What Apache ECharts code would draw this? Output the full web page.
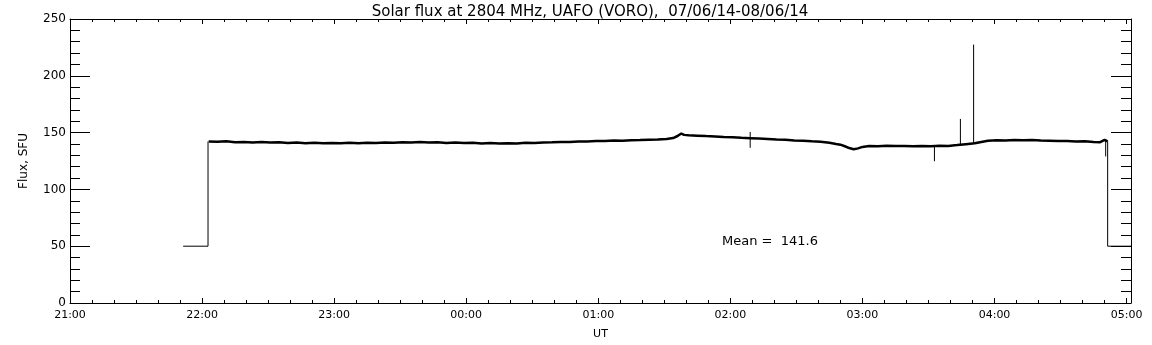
<!DOCTYPE html>
<html>
<head>
<meta charset="utf-8">
<script src="https://cdn.jsdelivr.net/npm/echarts@6/dist/echarts.min.js"></script>
<style>
html,body{margin:0;padding:0;background:#fff;}
#c{width:1152px;height:345px;}
</style>
</head>
<body>
<div id="c"></div>
<script>
// time in minutes after 21:00 UT
var hourLabels = ['21:00','22:00','23:00','00:00','01:00','02:00','03:00','04:00','05:00'];
var yTicks = [0, 50, 100, 150, 200, 250];
var meanText = 'Mean =  141.6';

// main flux trace [minutes after 21:00, SFU]
var traceTimes = [63,67,71,75,79,83,87,91,95,99,103,107,111,115,119,123,127,131,135,139,143,147,151,155,159,163,167,171,175,179,183,187,191,195,199,203,207,211,215,219,223,227,231,235,239,243,247,251,255,259,263,267,271,274,276,277.7,279,281,285,289,293,297,301,305,309,313,317,321,325,329,333,337,341,345,348,350,352,354,356,358,360,363,367,371,375,379,383,387,391,395,399,403,407,411,414,417,421,425,429,433,437,441,445,449,453,457,461,465,468,470,471.4];
var traceFlux = [142.2,141.9,142.3,141.6,141.8,141.3,141.7,141.2,141.5,140.9,141.2,140.7,141.0,140.6,140.9,140.6,141.0,140.7,141.1,140.9,141.3,141.1,141.6,141.3,141.7,141.2,141.4,140.9,141.2,140.8,141.0,140.5,140.8,140.4,140.7,140.5,141.0,140.8,141.3,141.4,141.8,141.7,142.2,142.1,142.6,142.5,143.0,142.8,143.3,143.4,143.8,143.9,144.4,145.2,147.0,149.2,148.0,147.6,147.3,146.9,146.6,146.1,145.8,145.4,145.1,144.7,144.3,143.9,143.6,143.1,142.8,142.3,141.9,141.0,140.0,139.4,138.0,136.4,135.3,136.1,137.4,138.2,138.0,138.4,138.1,138.3,137.9,138.2,138.0,138.4,138.3,139.0,139.8,140.6,141.8,142.8,143.2,143.0,143.5,143.2,143.4,143.0,142.9,142.5,142.6,142.1,142.3,141.8,141.6,143.5,142.2];

// spikes: time, from, to
var spikeTimes = [309, 392.7, 404.5, 410.5, 470.5];
var spikeFrom  = [150.6, 138.0, 139.0, 140.5, 143.0];
var spikeTo    = [136.6, 124.8, 162.0, 227.5, 129.0];

// level segments outside observing window (step at start and end)
var startTimes = [51.4, 62.7, 62.7];
var startFlux  = [50, 50, 142.2];
var endTimes   = [471.4, 471.4, 482];
var endFlux    = [142.2, 50, 50];

var X_MIN = 0, X_MAX = 482;

function zip(a, b){ return a.map(function(v,i){ return [v, b[i]]; }); }

var series = [];
series.push({
  type:'line', xAxisIndex:0, yAxisIndex:0, data: zip(traceTimes, traceFlux),
  showSymbol:false, silent:true, lineStyle:{color:'#000', width:2.5}
});
series.push({
  type:'line', xAxisIndex:0, yAxisIndex:0, data: zip(startTimes, startFlux),
  showSymbol:false, silent:true, lineStyle:{color:'#000', width:1}
});
series.push({
  type:'line', xAxisIndex:0, yAxisIndex:0, data: zip(endTimes, endFlux),
  showSymbol:false, silent:true, lineStyle:{color:'#000', width:1}
});
spikeTimes.forEach(function(t,i){
  series.push({
    type:'line', xAxisIndex:0, yAxisIndex:0, data: [[t, spikeFrom[i]], [t, spikeTo[i]]],
    showSymbol:false, silent:true, lineStyle:{color:'#000', width:1}
  });
});

var FONT = 'DejaVu Sans';
var lineStyle = {color:'#000', width:1};

function xAxisDef(pos, interval, tickLen, labels, showLine){
  return {
    type:'value', position:pos, min:X_MIN, max:X_MAX, interval:interval,
    axisLine:{show:showLine, onZero:false, lineStyle:lineStyle},
    axisTick:{show:true, inside:true, length:tickLen, lineStyle:lineStyle},
    splitLine:{show:false},
    axisLabel:{show:labels, color:'#000', fontFamily:FONT, fontSize:11, margin:7,
      formatter:function(v){ return (v % 60 === 0) ? hourLabels[v/60] : ''; },
      showMaxLabel:true, showMinLabel:true},
    name: labels ? 'UT' : '', nameLocation:'middle', nameGap:26,
    nameTextStyle:{color:'#000', fontFamily:FONT, fontSize:11}
  };
}

function yAxisDef(pos, labels){
  return {
    type:'value', position:pos, min:yTicks[0], max:yTicks[yTicks.length-1], interval:50,
    axisLine:{show:true, onZero:false, lineStyle:lineStyle},
    axisTick:{show:true, inside:true, length:20, lineStyle:lineStyle},
    minorTick:{show:true, splitNumber:5, length:10, lineStyle:lineStyle},
    splitLine:{show:false}, minorSplitLine:{show:false},
    axisLabel:{show:labels, color:'#000', fontFamily:FONT, fontSize:12, margin:4},
    name: labels ? 'Flux, SFU' : '', nameLocation:'middle', nameGap:40, nameRotate:90,
    nameTextStyle:{color:'#000', fontFamily:FONT, fontSize:12}
  };
}

var chart = echarts.init(document.getElementById('c'), null, {renderer:'canvas'});
chart.setOption({
  animation:false,
  backgroundColor:'#fff',
  title:{text:'Solar flux at 2804 MHz, UAFO (VORO),  07/06/14-08/06/14', left:585, textAlign:'center', top:0,
    textStyle:{color:'#000', fontFamily:FONT, fontSize:15, fontWeight:'normal'}},
  grid:{left:70, right:21, top:19, bottom:41, containLabel:false},
  xAxis:[
    xAxisDef('bottom', 60, 5, true, true),
    xAxisDef('bottom', 10, 3, false, false),
    xAxisDef('top', 60, 5, false, true),
    xAxisDef('top', 10, 3, false, false)
  ],
  yAxis:[ yAxisDef('left', true), yAxisDef('right', false) ],
  graphic:[{type:'text', left:722, top:235, style:{text:meanText, fill:'#000', font:'13px "DejaVu Sans"'}}],
  series: series
});
</script>
</body>
</html>
